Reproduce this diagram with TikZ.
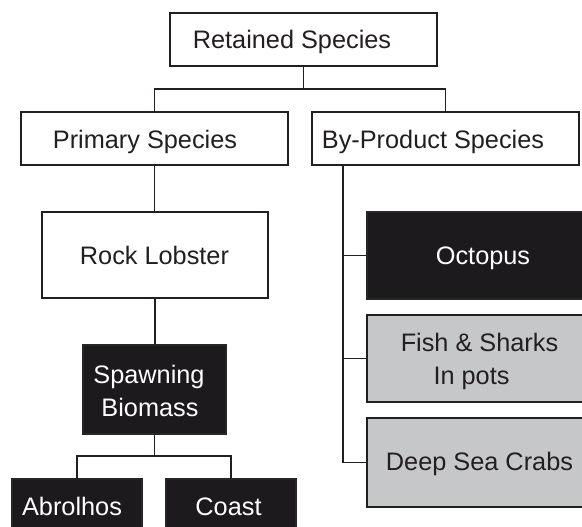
\documentclass[tikz,border=0pt]{standalone}
\usepackage{fontspec}
\setmainfont{Liberation Sans}
\definecolor{ink}{HTML}{231F20}
\definecolor{darkfill}{HTML}{1C1A1D}
\definecolor{greyfill}{HTML}{C6C7C9}
\tikzset{
  box/.style={draw=ink, line width=1.3pt, inner sep=0pt, anchor=center},
  whitebox/.style={box, fill=white},
  blackbox/.style={box, draw=black!85, fill=darkfill},
  greybox/.style={box, fill=greyfill},
  txt/.style={inner sep=0pt, anchor=base, text=ink,
    font=\fontsize{25.3}{33}\selectfont},
  wtxt/.style={txt, text=white},
  link/.style={draw=ink, line width=1.2pt}
}
\begin{document}
\begin{tikzpicture}[x=1pt, y=-1pt]
\useasboundingbox (0,0) rectangle (582,527);
\clip (0,0) rectangle (582,527);
\fill[white] (0,0) rectangle (582,527);

% boxes
\node[whitebox, minimum width=267pt, minimum height=53pt] (ret) at (303.5,39.5) {};
\node[whitebox, minimum width=267pt, minimum height=53pt] (prim) at (154.5,138.5) {};
\node[whitebox, minimum width=267pt, minimum height=53pt] (byp) at (445.5,138.5) {};
\node[whitebox, minimum width=226pt, minimum height=86pt] (rock) at (155,255) {};
\node[blackbox, minimum width=143pt, minimum height=89pt] (spawn) at (154.5,389.5) {};
\node[blackbox, minimum width=130pt, minimum height=61pt] (abro) at (77,509.5) {};
\node[blackbox, minimum width=130pt, minimum height=61pt] (coast) at (231,509.5) {};
\node[blackbox, minimum width=226pt, minimum height=87pt] (oct) at (480,255.5) {};
\node[greybox, minimum width=226pt, minimum height=87pt] (fish) at (480,358.5) {};
\node[greybox, minimum width=226pt, minimum height=89pt] (crab) at (480,462.5) {};

% labels
\node[txt] (retT) at (292,49) {Retained Species};
\node[txt] (primT) at (145,148.5) {Primary Species};
\node[txt] (bypT) at (433,148.5) {By-Product Species};
\node[txt] (rockT) at (154.5,264) {Rock Lobster};
\node[wtxt] (spawnT1) at (149,383) {Spawning};
\node[wtxt] (spawnT2) at (150,416) {Biomass};
\node[wtxt] (abroT) at (72,515.5) {Abrolhos};
\node[wtxt] (coastT) at (228.5,515.5) {Coast};
\node[wtxt] (octT) at (483,264) {Octopus};
\node[txt] (fishT1) at (479.5,351.5) {Fish \& Sharks};
\node[txt] (fishT2) at (471.5,384.5) {In pots};
\node[txt] (crabT) at (479.5,470) {Deep Sea Crabs};

% connectors
\coordinate (bus1) at (303.5,89);
\coordinate (bus2) at (154.5,456);
\coordinate (trunk) at (343,165);
\draw[link] (ret.south) -- (bus1) -| (prim.north);
\draw[link] (bus1) -| (byp.north);
\draw[link] (prim.south) -- (prim.south |- rock.north);
\draw[link] (rock.south) -- (rock.south |- spawn.north);
\draw[link] (spawn.south) -- (bus2) -| (abro.north);
\draw[link] (bus2) -| (coast.north);
\draw[link] (trunk) |- (crab.west);
\draw[link] (trunk |- oct.west) -- (oct.west);
\draw[link] (trunk |- fish.west) -- (fish.west);
\end{tikzpicture}
\end{document}
